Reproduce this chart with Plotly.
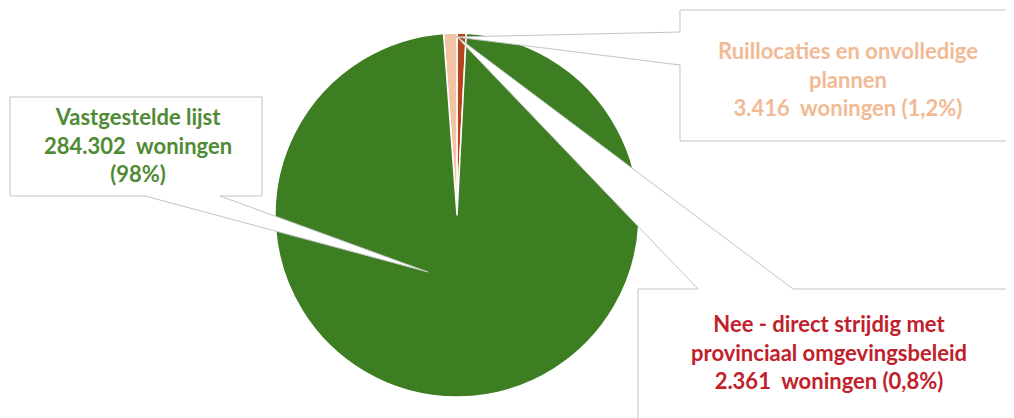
import plotly.graph_objects as go

# ---- data ----
categories = [
    "Nee - direct strijdig met provinciaal omgevingsbeleid",
    "Ruillocaties en onvolledige plannen",
    "Vastgestelde lijst",
]
woningen = [2361, 3416, 284302]
percent_labels = ["0,8%", "1,2%", "98%"]
value_labels = ["2.361", "3.416", "284.302"]
slice_colors = ["#b4451f", "#f3c3a3", "#3e7e23"]
text_colors = ["#c0212b", "#f1ba95", "#4f8b35"]

W, H = 1014, 418
OFF = 8  # default page body margin


def X(px):
    return (px - OFF) / W


def Y(py):
    return 1 - (py - OFF) / H


def path(points):
    return "M " + " L ".join(f"{X(a):.5f},{Y(b):.5f}" for a, b in points) + " Z"


cx, cy, r = 457, 215, 182

fig = go.Figure(
    go.Pie(
        labels=categories,
        values=woningen,
        sort=False,
        direction="counterclockwise",
        rotation=0,
        marker=dict(colors=slice_colors, line=dict(color="white", width=1.5)),
        textinfo="none",
        hoverinfo="label+value+percent",
        domain=dict(x=[X(cx - r), X(cx + r)], y=[Y(cy + r), Y(cy - r)]),
        showlegend=False,
    )
)

box_line = dict(color="#c4c4c4", width=1)

# callout: green (Vastgestelde lijst)
green_box = [(10, 97), (262, 97), (262, 196), (220, 196), (428, 272), (145, 196), (10, 196)]
# callout: peach (Ruillocaties)
peach_box = [(680, 10), (1010, 10), (1010, 141), (680, 141), (680, 65), (456, 37), (680, 32)]
# callout: dark red (Nee)
red_box = [(638, 289), (698, 289), (456, 36), (793, 289), (1030, 289), (1030, 430), (638, 430)]

shapes = []
for pts in (red_box, peach_box, green_box):
    shapes.append(
        dict(type="path", path=path(pts), xref="paper", yref="paper",
             fillcolor="white", line=box_line, layer="above")
    )

font_family = "Lato, 'Open Sans', sans-serif"
FS = 22
annotations = [
    dict(
        text=f"<b>Vastgestelde lijst<br>{value_labels[2]}  woningen<br>({percent_labels[2]})</b>",
        x=X(138), y=Y(145), xref="paper", yref="paper", showarrow=False,
        xanchor="center", yanchor="middle", align="center",
        font=dict(family=font_family, size=FS, color=text_colors[2]),
    ),
    dict(
        text=f"<b>Ruillocaties en onvolledige<br>plannen<br>{value_labels[1]}  woningen ({percent_labels[1]})</b>",
        x=X(848), y=Y(79), xref="paper", yref="paper", showarrow=False,
        xanchor="center", yanchor="middle", align="center",
        font=dict(family=font_family, size=FS, color=text_colors[1]),
    ),
    dict(
        text=f"<b>Nee - direct strijdig met<br>provinciaal omgevingsbeleid<br>{value_labels[0]}  woningen ({percent_labels[0]})</b>",
        x=X(829), y=Y(352), xref="paper", yref="paper", showarrow=False,
        xanchor="center", yanchor="middle", align="center",
        font=dict(family=font_family, size=FS, color=text_colors[0]),
    ),
]

fig.update_layout(
    width=W, height=H,
    margin=dict(l=0, r=0, t=0, b=0),
    paper_bgcolor="white", plot_bgcolor="white",
    shapes=shapes, annotations=annotations,
)

fig.write_html("out.html")
